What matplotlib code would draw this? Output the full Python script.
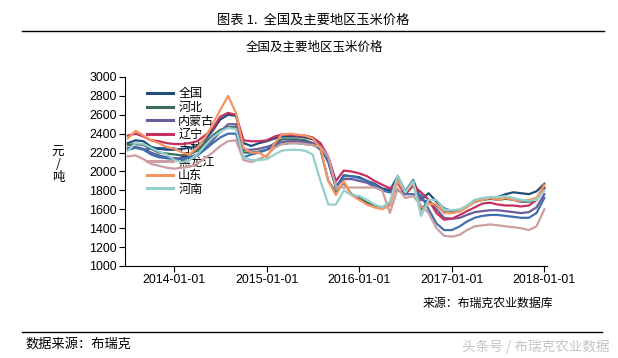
import pandas as pd
import matplotlib
matplotlib.use("Agg")
import matplotlib.pyplot as plt
from matplotlib.lines import Line2D

plt.rcParams['font.family'] = ['Noto Sans CJK SC', 'DejaVu Sans']

# monthly dates, Jul 2013 .. Jan 2018
dates = pd.date_range("2013-07-01", "2018-01-01", freq="MS")

quanguo = [2300, 2330, 2320, 2260, 2240, 2230,
           2230, 2240, 2250, 2270, 2330, 2430, 2550, 2600, 2590, 2300, 2270, 2300,
           2320, 2350, 2370, 2370, 2370, 2360, 2340, 2280, 2100, 1830, 1960, 1950,
           1940, 1900, 1870, 1820, 1800, 1950, 1790, 1910, 1700, 1770, 1680, 1610,
           1580, 1590, 1630, 1680, 1700, 1720, 1730, 1760, 1780, 1770, 1760, 1790,
           1870]
hebei = [2280, 2290, 2280, 2240, 2200, 2190,
         2180, 2170, 2180, 2220, 2300, 2380, 2440, 2470, 2470, 2200, 2200, 2210,
         2230, 2300, 2340, 2340, 2340, 2330, 2300, 2230, 1900, 1780, 1880, 1760,
         1720, 1670, 1640, 1620, 1660, 1930, 1780, 1880, 1600, 1680, 1640, 1570,
         1560, 1580, 1630, 1680, 1700, 1710, 1700, 1710, 1700, 1680, 1680, 1700,
         1830]
neimenggu = [2250, 2260, 2240, 2200, 2170, 2150,
             2140, 2140, 2150, 2180, 2250, 2330, 2420, 2500, 2500, 2230, 2230, 2240,
             2260, 2290, 2310, 2320, 2320, 2310, 2300, 2280, 2150, 1850, 1920, 1920,
             1900, 1880, 1840, 1800, 1780, 1880, 1760, 1860, 1700, 1680, 1600, 1510,
             1500, 1510, 1540, 1570, 1580, 1590, 1590, 1580, 1570, 1560, 1570, 1620,
             1760]
liaoning = [2380, 2400, 2370, 2330, 2320, 2300,
            2290, 2290, 2300, 2320, 2380, 2450, 2580, 2620, 2600, 2330, 2320, 2320,
            2330, 2370, 2390, 2390, 2380, 2380, 2360, 2300, 2150, 1900, 2010, 2000,
            1980, 1950, 1900, 1860, 1820, 1880, 1760, 1850, 1780, 1700, 1560, 1490,
            1500, 1540, 1580, 1620, 1660, 1670, 1650, 1640, 1640, 1630, 1640, 1700,
            1820]
jilin = [2230, 2250, 2230, 2180, 2150, 2140,
         2130, 2130, 2150, 2170, 2230, 2300, 2360, 2400, 2400, 2150, 2180, 2200,
         2230, 2270, 2290, 2300, 2300, 2290, 2280, 2250, 2100, 1830, 1950, 1950,
         1930, 1900, 1860, 1800, 1780, 1800, 1760, 1760, 1750, 1600, 1450, 1380,
         1380, 1420, 1470, 1510, 1530, 1540, 1540, 1530, 1520, 1510, 1510, 1560,
         1720]
heilongjiang = [2160, 2170, 2130, 2080, 2060, 2040,
                2030, 2040, 2050, 2080, 2140, 2200, 2270, 2320, 2330, 2120, 2100, 2130,
                2170, 2250, 2290, 2300, 2300, 2290, 2280, 2260, 2150, 1840, 1830, 1830,
                1830, 1830, 1830, 1800, 1560, 1820, 1720, 1740, 1640, 1560, 1400, 1320,
                1310, 1330, 1380, 1420, 1430, 1440, 1430, 1420, 1410, 1400, 1380, 1420,
                1600]
shandong = [2350, 2430, 2380, 2330, 2300, 2260,
            2240, 2200, 2180, 2250, 2350, 2500, 2650, 2800, 2620, 2250, 2200, 2200,
            2150, 2300, 2390, 2400, 2390, 2380, 2350, 2250, 1900, 1750, 1900, 1750,
            1700, 1650, 1620, 1600, 1640, 1900, 1780, 1880, 1560, 1660, 1650, 1560,
            1560, 1580, 1620, 1680, 1700, 1720, 1700, 1720, 1700, 1690, 1700, 1720,
            1860]
henan = [2220, 2300, 2290, 2250, 2210, 2180,
         2120, 2100, 2120, 2180, 2270, 2360, 2420, 2460, 2450, 2150, 2120, 2120,
         2130, 2180, 2220, 2230, 2230, 2220, 2180, 1900, 1650, 1650, 1800, 1750,
         1740, 1700, 1650, 1620, 1680, 1960, 1780, 1900, 1530, 1700, 1700, 1600,
         1590, 1600, 1640, 1700, 1720, 1730, 1730, 1740, 1720, 1700, 1690, 1700,
         1800]

names = ["全国", "河北", "内蒙古", "辽宁", "吉林", "黑龙江", "山东", "河南"]
series = [quanguo, hebei, neimenggu, liaoning, jilin, heilongjiang, shandong, henan]
colors = ["#1f4e7a", "#3d6b60", "#6a5d9b", "#c62f5f", "#3f6fae", "#cc9ea0", "#f69462", "#93cfcc"]

fig = plt.figure(figsize=(6.18, 3.58), dpi=100)
ax = fig.add_axes([0.2023, 0.257, 0.683, 0.528])

for name, vals, c in zip(names, series, colors):
    ax.plot(dates, vals, color=c, lw=1.6, label=name, zorder=3)

ax.set_ylim(1000, 3000)
ax.set_yticks(range(1000, 3001, 200))
ax.set_xlim(pd.Timestamp("2013-06-20"), pd.Timestamp("2018-01-12"))
xt = pd.to_datetime(["2014-01-01", "2015-01-01", "2016-01-01", "2017-01-01", "2018-01-01"])
ax.set_xticks(xt)
ax.set_xticklabels([d.strftime("%Y-%m-%d") for d in xt])
for lab in ax.get_xticklabels() + ax.get_yticklabels():
    lab.set_family("Liberation Sans")
    lab.set_fontsize(8.9)
ax.tick_params(direction="out", length=4, width=0.8, pad=2)
ax.spines["top"].set_visible(False)
ax.spines["right"].set_visible(False)

leg = ax.legend(loc="upper left", bbox_to_anchor=(0.04, 0.97), frameon=False, fontsize=8.7,
                handlelength=2.2, handletextpad=0.4, labelspacing=0.05, borderaxespad=0)
leg.set_zorder(1)
for h in leg.get_lines():
    h.set_linewidth(2.2)

fig.text(58 / 618, 1 - 165 / 358, "元\n/\n吨", ha="center", va="center", fontsize=9, linespacing=1.0)

# header / footer
fig.text(0.507, 1 - 20 / 358, "图表 1.  全国及主要地区玉米价格", ha="center", va="center", fontsize=9.5)
fig.add_artist(Line2D([22 / 618, 604 / 618], [1 - 31 / 358] * 2, color="black", lw=1))
fig.text(0.508, 1 - 47 / 358, "全国及主要地区玉米价格", ha="center", va="center", fontsize=9)
fig.text(423 / 618, 1 - 303 / 358, "来源：布瑞克农业数据库", ha="left", va="center", fontsize=8.6)
fig.add_artist(Line2D([22 / 618, 602 / 618], [1 - 332 / 358] * 2, color="black", lw=1))
fig.text(25 / 618, 1 - 344 / 358, "数据来源：布瑞克", ha="left", va="center", fontsize=9.5)
fig.text(610 / 618, 1 - 347 / 358, "头条号 / 布瑞克农业数据", ha="right", va="center",
         fontsize=9.8, color="#c4c4c4")

fig.savefig("out.png", dpi=100)
